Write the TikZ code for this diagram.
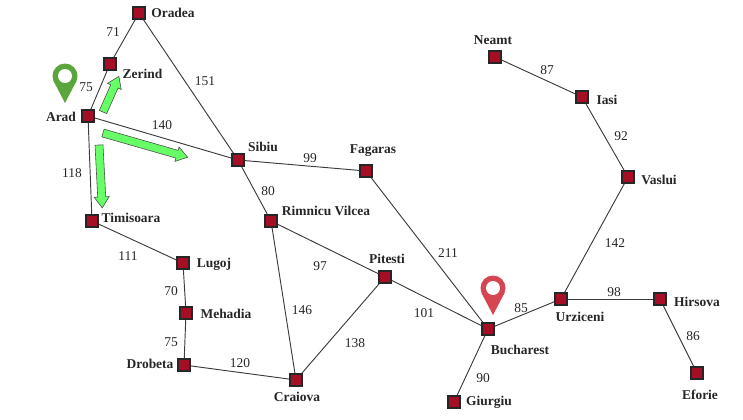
\documentclass[tikz,border=0pt]{standalone}
\usepackage{fontspec}
\setmainfont{Liberation Serif}
\definecolor{citycol}{HTML}{A50E24}
\definecolor{edgecol}{HTML}{3C3C3C}
\definecolor{arrowcol}{HTML}{66FF66}
\definecolor{pingreen}{HTML}{5AA63C}
\definecolor{pinred}{HTML}{D64552}
\tikzset{
	city/.style={draw=black!85,fill=citycol,line width=1.7pt,minimum size=10pt,inner sep=0pt},
	cityname/.style={font=\bfseries\fontsize{11.5}{13}\selectfont,text=black!85,inner sep=0pt},
	dist/.style={font=\fontsize{11.5}{13}\selectfont,text=black!85,inner sep=0pt},
	road/.style={draw=edgecol,line width=0.8pt},
	movearrow/.style={draw=black!70,fill=arrowcol,line width=0.5pt}
}
\def\mappin(#1,#2)#3{
	\fill[#3] (#1,#2) circle (12.5);
	\fill[#3] (#1-11.5,#2+5) -- (#1,#2+27) -- (#1+11.5,#2+5) -- cycle;
	\fill[white] (#1,#2) circle (7);
}
\def\movearrow(#1,#2)(#3:#4){
	\draw[movearrow,shift={(#1,#2)},rotate=#3] (0,-4) -- (#4-11,-4) -- (#4-11,-7.5) -- (#4,0) -- (#4-11,7.5) -- (#4-11,4) -- (0,4) -- cycle;
}
\begin{document}
\begin{tikzpicture}[x=0.03cm,y=-0.03cm]
		\useasboundingbox (0,0) rectangle (743,420);
		%%%%% ROADS AND CITIES %%%%%
		\node[city] (oradea) at (139,13) {};
		\node[city] (zerind) at (110,64) {};
		\node[city] (arad) at (88,116) {};
		\node[city] (timisoara) at (92,221) {};
		\node[city] (sibiu) at (238,160) {};
		\node[city] (fagaras) at (366,171) {};
		\node[city] (rimnicu) at (271,221) {};
		\node[city] (lugoj) at (183,263) {};
		\node[city] (mehadia) at (186,313) {};
		\node[city] (drobeta) at (184,365) {};
		\node[city] (craiova) at (296,380) {};
		\node[city] (pitesti) at (385,277) {};
		\node[city] (bucharest) at (488,329) {};
		\node[city] (giurgiu) at (454,402) {};
		\node[city] (urziceni) at (561,299) {};
		\node[city] (hirsova) at (660,299) {};
		\node[city] (eforie) at (697,373) {};
		\node[city] (vaslui) at (628,177) {};
		\node[city] (iasi) at (582,97) {};
		\node[city] (neamt) at (495,57) {};
		
		\draw[road] (oradea) -- (zerind);
		\draw[road] (zerind) -- (arad);
		\draw[road] (oradea) -- (sibiu);
		\draw[road] (arad) -- (sibiu);
		\draw[road] (arad) -- (timisoara);
		\draw[road] (timisoara) -- (lugoj);
		\draw[road] (lugoj) -- (mehadia);
		\draw[road] (mehadia) -- (drobeta);
		\draw[road] (drobeta) -- (craiova);
		\draw[road] (craiova) -- (rimnicu);
		\draw[road] (craiova) -- (pitesti);
		\draw[road] (rimnicu) -- (sibiu);
		\draw[road] (rimnicu) -- (pitesti);
		\draw[road] (sibiu) -- (fagaras);
		\draw[road] (fagaras) -- (bucharest);
		\draw[road] (pitesti) -- (bucharest);
		\draw[road] (bucharest) -- (giurgiu);
		\draw[road] (bucharest) -- (urziceni);
		\draw[road] (urziceni) -- (hirsova);
		\draw[road] (hirsova) -- (eforie);
		\draw[road] (urziceni) -- (vaslui);
		\draw[road] (vaslui) -- (iasi);
		\draw[road] (iasi) -- (neamt);
		
		%%%%% NAMES %%%%%
		\node[cityname] (oradealabel) at (173,13) {Oradea};
		\node[cityname] (zerindlabel) at (142.5,74) {Zerind};
		\node[cityname] (aradlabel) at (61,117) {Arad};
		\node[cityname] (timisoaralabel) at (131,218) {Timisoara};
		\node[cityname] (sibiulabel) at (263,147) {Sibiu};
		\node[cityname] (fagaraslabel) at (373,151) {Fagaras};
		\node[cityname] (rimniculabel) at (326,211) {Rimnicu Vilcea};
		\node[cityname] (lugojlabel) at (214,264) {Lugoj};
		\node[cityname] (mehadialabel) at (226,314) {Mehadia};
		\node[cityname] (drobetalabel) at (150,364) {Drobeta};
		\node[cityname] (craiovalabel) at (297,397) {Craiova};
		\node[cityname] (pitestilabel) at (387,259) {Pitesti};
		\node[cityname] (bucharestlabel) at (520,350) {Bucharest};
		\node[cityname] (giurgiulabel) at (489,402) {Giurgiu};
		\node[cityname] (urzicenilabel) at (580,317) {Urziceni};
		\node[cityname] (hirsovalabel) at (697,302) {Hirsova};
		\node[cityname] (eforielabel) at (700,395) {Eforie};
		\node[cityname] (vasluilabel) at (659,180) {Vaslui};
		\node[cityname] (iasilabel) at (607,100) {Iasi};
		\node[cityname] (neamtlabel) at (493,40) {Neamt};
		
		%%%%% DISTANCES %%%%%
		\node[dist] (d71) at (113,32) {71};
		\node[dist] (d75a) at (86,87) {75};
		\node[dist] (d151) at (205,81) {151};
		\node[dist] (d140) at (162,125) {140};
		\node[dist] (d118) at (72,173) {118};
		\node[dist] (d111) at (128,256) {111};
		\node[dist] (d70) at (171,291) {70};
		\node[dist] (d75b) at (171,342) {75};
		\node[dist] (d120) at (240,363) {120};
		\node[dist] (d80) at (268,191) {80};
		\node[dist] (d97) at (320,266) {97};
		\node[dist] (d146) at (302,310) {146};
		\node[dist] (d138) at (355,343) {138};
		\node[dist] (d101) at (424,313) {101};
		\node[dist] (d99) at (310,158) {99};
		\node[dist] (d211) at (448,253) {211};
		\node[dist] (d85) at (521,308) {85};
		\node[dist] (d90) at (483,378) {90};
		\node[dist] (d98) at (614,292) {98};
		\node[dist] (d86) at (693,336) {86};
		\node[dist] (d142) at (615,243) {142};
		\node[dist] (d92) at (621,136) {92};
		\node[dist] (d87) at (547,70) {87};
		
		%%%%% ARROWS AND PINS %%%%%
		\movearrow(103,112)(66:39)
		\movearrow(103,133)(-16:88)
		\movearrow(99,145)(-87:63)
		
		\mappin(65,76){pingreen}
		\mappin(493,288){pinred}
	\end{tikzpicture}
\end{document}
